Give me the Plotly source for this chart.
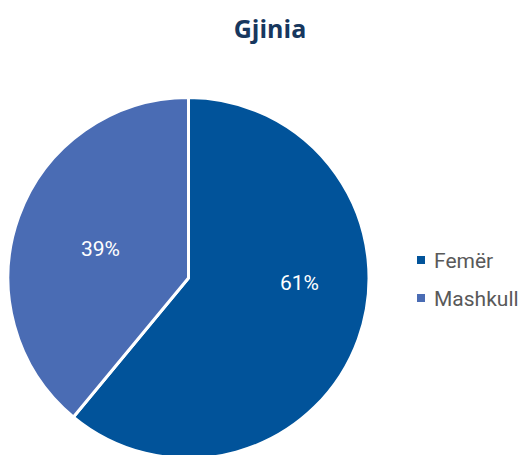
import plotly.graph_objects as go

labels = ["Femër", "Mashkull"]
values = [61, 39]
colors = ["#01539A", "#4A6CB4"]

# figure size (page body adds an 8px offset; bottom of pie is cropped by the window like the reference)
W, H = 520, 470

def px(x):
    return (x - 8) / W

def py(y):
    return 1 - (y - 8) / H

fig = go.Figure(go.Pie(
    labels=labels,
    values=values,
    sort=False,
    direction="clockwise",
    rotation=0,
    marker=dict(colors=colors, line=dict(color="white", width=3)),
    textinfo="none",
    domain=dict(x=[0, 361 / W], y=[1 - 450.5 / H, 1 - 89.5 / H]),
    hoverinfo="label+percent",
    showlegend=False,
))

annotations = []
shapes = []

# slice percentage labels
label_pos = [(299, 283), (100, 249)]
for v, (lx, ly) in zip(values, label_pos):
    annotations.append(dict(text=f"{v}%", xref="paper", yref="paper",
                            x=px(lx), y=py(ly), xanchor="center", yanchor="middle",
                            showarrow=False,
                            font=dict(family="Roboto", size=21, color="white")))

# legend drawn as squares + text
legend_y = [260, 298]
for lab, col, ly in zip(labels, colors, legend_y):
    shapes.append(dict(type="rect", xref="paper", yref="paper",
                       x0=px(417), x1=px(425),
                       y0=py(ly + 4), y1=py(ly - 4),
                       fillcolor=col, line=dict(width=0)))
    annotations.append(dict(text=lab, xref="paper", yref="paper",
                            x=px(432), y=py(ly + 1),
                            xanchor="left", yanchor="middle", showarrow=False,
                            font=dict(family="Roboto", size=21, color="#595959")))

fig.update_layout(
    width=W, height=H,
    margin=dict(l=0, r=0, t=0, b=0),
    paper_bgcolor="white",
    plot_bgcolor="white",
    title=dict(text="<b>Gjinia</b>", x=px(270), xanchor="center", y=py(29), yanchor="middle",
               font=dict(family="Open Sans", size=25, color="#17375E")),
    shapes=shapes,
    annotations=annotations,
)

fig.write_html("out.html")
